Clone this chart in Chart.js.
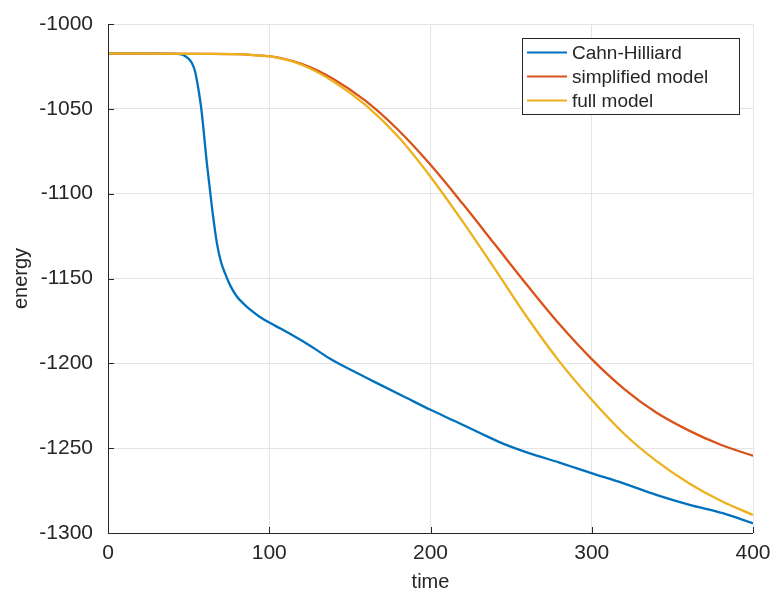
<!DOCTYPE html>
<html>
<head>
<meta charset="utf-8">
<script src="https://cdn.jsdelivr.net/npm/chart.js@4/dist/chart.umd.min.js"></script>
<style>
  html, body { margin: 0; padding: 0; background: #fff; }
  #wrap { width: 771px; height: 595px; }
</style>
</head>
<body>
<div id="wrap"><canvas id="c" width="771" height="595"></canvas></div>
<script>
const seriesNames = ["Cahn-Hilliard", "simplified model", "full model"];
const xTicks = [0, 100, 200, 300, 400];
const yTicks = [-1300, -1250, -1200, -1150, -1100, -1050, -1000];

const chTime = [0, 30, 42, 46, 48, 50, 52, 54, 56, 58, 61.3, 64.4, 67.5, 70, 72.6, 76, 79.9, 84, 88.2, 94, 100.6, 107, 119, 130, 138, 155, 169, 185, 200, 215, 231, 245, 262, 280, 298.7, 319.3, 340, 360.7, 381.3, 400];
const chEnergy = [-1017.5, -1017.5, -1017.6, -1018, -1019, -1020.5, -1023, -1028, -1038, -1051, -1082, -1107.5, -1129, -1140, -1147, -1154.5, -1160.6, -1164.8, -1168.4, -1172.5, -1176.3, -1179.5, -1186, -1192.5, -1197.5, -1206, -1212.7, -1220.3, -1227.4, -1234, -1241.2, -1247.3, -1253.2, -1258.5, -1264.4, -1270.6, -1277.5, -1283.4, -1288.3, -1294.3];

const simpTime = [0, 60, 80, 90, 100, 120, 140, 160, 180, 200, 220, 240, 260, 280, 300, 320, 340, 360, 380, 400];
const simpEnergy = [-1017.5, -1017.6, -1017.8, -1018.3, -1019, -1023.5, -1032.5, -1045.5, -1062.5, -1083, -1106, -1130, -1154, -1177, -1197.5, -1215, -1229, -1239.5, -1248, -1254.5];

const fullTime = [0, 60, 80, 90, 100, 120, 140, 160, 180, 200, 220, 240, 260, 280, 300, 320, 340, 360, 380, 400];
const fullEnergy = [-1017.5, -1017.6, -1017.8, -1018.3, -1019, -1024, -1034, -1048, -1066.5, -1090, -1116.5, -1144.5, -1173, -1199, -1221.5, -1241.5, -1257.5, -1270.5, -1281, -1289.4];

const colors = ["#0072BD", "#D95319", "#EDB120"];
const FONT = "'Liberation Sans', Arial, Helvetica, sans-serif";
const TXT = "#262626";

function pts(xs, ys) { return xs.map((x, i) => ({ x: x, y: ys[i] })); }

const axisPlugin = {
  id: 'matlabAxes',
  afterDraw(chart) {
    const ctx = chart.ctx;
    const a = chart.chartArea;
    const xs = chart.scales.x, ys = chart.scales.y;
    ctx.save();
    ctx.strokeStyle = TXT;
    ctx.lineWidth = 1;
    ctx.beginPath();
    ctx.moveTo(Math.round(a.left) + 0.5, a.top);
    ctx.lineTo(Math.round(a.left) + 0.5, Math.round(a.bottom) + 0.5);
    ctx.lineTo(a.right, Math.round(a.bottom) + 0.5);
    ctx.stroke();
    ctx.beginPath();
    xTicks.forEach(v => {
      const px = Math.round(xs.getPixelForValue(v)) + 0.5;
      ctx.moveTo(px, a.bottom);
      ctx.lineTo(px, a.bottom - 6);
    });
    yTicks.forEach(v => {
      const py = Math.round(ys.getPixelForValue(v)) + 0.5;
      ctx.moveTo(a.left, py);
      ctx.lineTo(a.left + 6, py);
    });
    ctx.stroke();

    // legend box
    const bx = 522.5, by = 38.5, bw = 217, bh = 76;
    ctx.fillStyle = '#fff';
    ctx.fillRect(bx, by, bw, bh);
    ctx.strokeStyle = TXT;
    ctx.strokeRect(bx, by, bw, bh);
    ctx.font = "19px " + FONT;
    ctx.textBaseline = 'middle';
    ctx.textAlign = 'left';
    chart.data.datasets.forEach((ds, i) => {
      const yy = 52.5 + i * 24;
      ctx.strokeStyle = ds.borderColor;
      ctx.lineWidth = 2.2;
      ctx.beginPath();
      ctx.moveTo(527, yy);
      ctx.lineTo(567, yy);
      ctx.stroke();
      ctx.fillStyle = TXT;
      ctx.fillText(ds.label, 572, yy + 1);
    });
    ctx.restore();
  }
};

const mkDs = (i, data, order) => ({
  label: seriesNames[i],
  data: data,
  borderColor: colors[i],
  backgroundColor: colors[i],
  borderWidth: 2.3,
  pointRadius: 0,
  fill: false,
  cubicInterpolationMode: 'monotone',
  order: order
});

const plain = (v) => String(v);

new Chart(document.getElementById('c'), {
  type: 'line',
  data: {
    datasets: [
      mkDs(0, pts(chTime, chEnergy), 2),
      mkDs(1, pts(simpTime, simpEnergy), 1),
      mkDs(2, pts(fullTime, fullEnergy), 0)
    ]
  },
  options: {
    responsive: false,
    animation: false,
    devicePixelRatio: 1,
    layout: { padding: { left: 0, right: 18, top: 24, bottom: 0 } },
    plugins: { legend: { display: false }, tooltip: { enabled: false } },
    scales: {
      x: {
        type: 'linear',
        min: 0, max: 400,
        afterBuildTicks: (s) => { s.ticks = xTicks.map(v => ({ value: v })); },
        afterFit: (s) => { s.height = 62; s.paddingRight = 0; s.paddingLeft = 0; },
        grid: { color: '#e5e5e5', drawTicks: false },
        border: { display: false },
        ticks: { color: TXT, font: { family: FONT, size: 21 }, padding: 8, maxRotation: 0, callback: plain },
        title: { display: true, text: 'time', color: TXT, font: { family: FONT, size: 20 }, padding: { top: 2, bottom: 1 } }
      },
      y: {
        type: 'linear',
        min: -1300, max: -1000,
        afterBuildTicks: (s) => { s.ticks = yTicks.map(v => ({ value: v })); },
        afterFit: (s) => { s.width = 108; s.paddingTop = 0; s.paddingBottom = 0; },
        grid: { color: '#e5e5e5', drawTicks: false },
        border: { display: false },
        ticks: { color: TXT, font: { family: FONT, size: 21 }, padding: 15, callback: plain },
        title: { display: true, text: 'energy', color: TXT, font: { family: FONT, size: 20 }, padding: { top: 9, bottom: 0 } }
      }
    }
  },
  plugins: [axisPlugin]
});
</script>
</body>
</html>
